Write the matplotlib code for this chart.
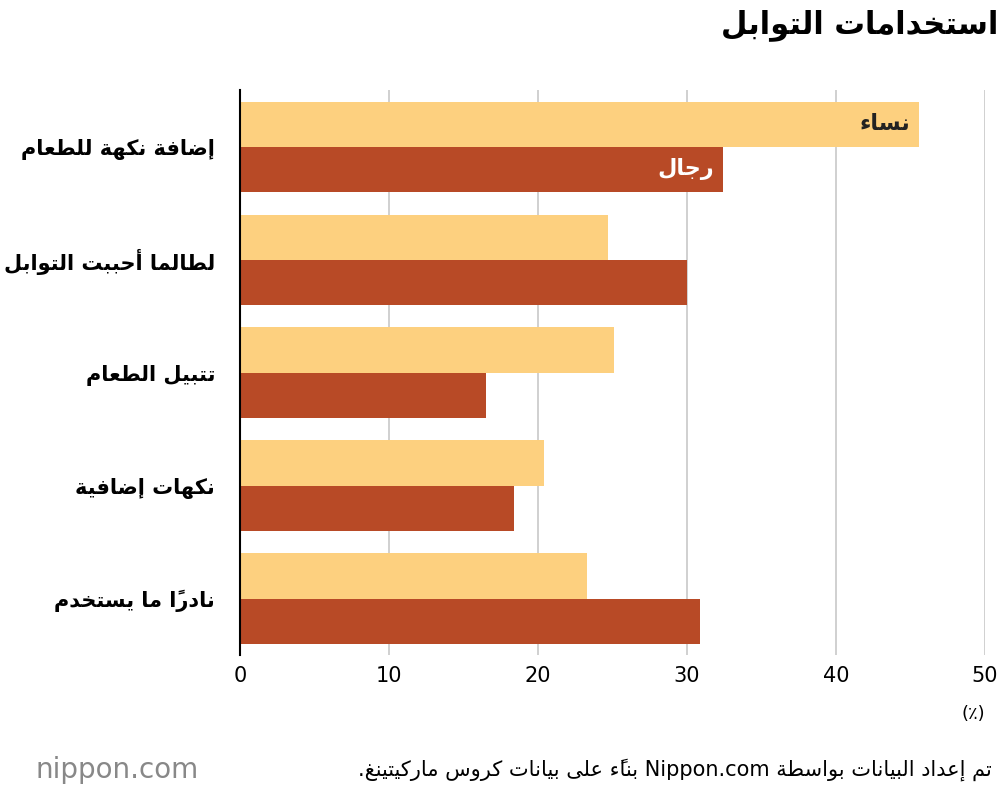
import matplotlib
matplotlib.use("Agg")
import matplotlib.pyplot as plt

title = "استخدامات التوابل"
categories = ["إضافة نكهة للطعام", "لطالما أحببت التوابل", "تتبيل الطعام", "نكهات إضافية", "نادراً ما يستخدم"]
women = [45.6, 24.7, 25.1, 20.4, 23.3]
men = [32.4, 30.0, 16.5, 18.4, 30.9]
series_names = ["نساء", "رجال"]
xticks = [0, 10, 20, 30, 40, 50]
unit = "(٪)"
source = "تم إعداد البيانات بواسطة Nippon.com بناءً على بيانات كروس ماركيتينغ."

# --- minimal Arabic shaping (presentation forms) ---
F = {
 'ء':(0xFE80,None,None,None),'آ':(0xFE81,0xFE82,None,None),'أ':(0xFE83,0xFE84,None,None),
 'ؤ':(0xFE85,0xFE86,None,None),'إ':(0xFE87,0xFE88,None,None),'ئ':(0xFE89,0xFE8A,0xFE8B,0xFE8C),
 'ا':(0xFE8D,0xFE8E,None,None),'ب':(0xFE8F,0xFE90,0xFE91,0xFE92),'ة':(0xFE93,0xFE94,None,None),
 'ت':(0xFE95,0xFE96,0xFE97,0xFE98),'ث':(0xFE99,0xFE9A,0xFE9B,0xFE9C),'ج':(0xFE9D,0xFE9E,0xFE9F,0xFEA0),
 'ح':(0xFEA1,0xFEA2,0xFEA3,0xFEA4),'خ':(0xFEA5,0xFEA6,0xFEA7,0xFEA8),'د':(0xFEA9,0xFEAA,None,None),
 'ذ':(0xFEAB,0xFEAC,None,None),'ر':(0xFEAD,0xFEAE,None,None),'ز':(0xFEAF,0xFEB0,None,None),
 'س':(0xFEB1,0xFEB2,0xFEB3,0xFEB4),'ش':(0xFEB5,0xFEB6,0xFEB7,0xFEB8),'ص':(0xFEB9,0xFEBA,0xFEBB,0xFEBC),
 'ض':(0xFEBD,0xFEBE,0xFEBF,0xFEC0),'ط':(0xFEC1,0xFEC2,0xFEC3,0xFEC4),'ظ':(0xFEC5,0xFEC6,0xFEC7,0xFEC8),
 'ع':(0xFEC9,0xFECA,0xFECB,0xFECC),'غ':(0xFECD,0xFECE,0xFECF,0xFED0),'ف':(0xFED1,0xFED2,0xFED3,0xFED4),
 'ق':(0xFED5,0xFED6,0xFED7,0xFED8),'ك':(0xFED9,0xFEDA,0xFEDB,0xFEDC),'ل':(0xFEDD,0xFEDE,0xFEDF,0xFEE0),
 'م':(0xFEE1,0xFEE2,0xFEE3,0xFEE4),'ن':(0xFEE5,0xFEE6,0xFEE7,0xFEE8),'ه':(0xFEE9,0xFEEA,0xFEEB,0xFEEC),
 'و':(0xFEED,0xFEEE,None,None),'ى':(0xFEEF,0xFEF0,None,None),'ي':(0xFEF1,0xFEF2,0xFEF3,0xFEF4),
}
LA = {'ا':(0xFEFB,0xFEFC),'أ':(0xFEF7,0xFEF8),'إ':(0xFEF9,0xFEFA),'آ':(0xFEF5,0xFEF6)}
MARKS = set(chr(c) for c in range(0x064B, 0x0653))

def joins_next(ch):
    return ch in F and F[ch][2] is not None

def shape_word(w):
    letters = list(w)
    out = []
    i = 0
    prev = None
    n = len(letters)
    def next_base(j):
        j += 1
        while j < n and letters[j] in MARKS:
            j += 1
        return letters[j] if j < n else None, j
    while i < n:
        c = letters[i]
        if c in MARKS:
            out.append(c); i += 1; continue
        if c not in F:
            out.append(c); prev = None; i += 1; continue
        nb, j = next_base(i)
        linked_prev = prev is not None and joins_next(prev)
        if c == 'ل' and nb in LA:
            out.append(chr(LA[nb][1] if linked_prev else LA[nb][0]))
            prev = 'ا'; i = j + 1; continue
        linked_next = joins_next(c) and nb in F
        iso, fin, ini, med = F[c]
        if linked_prev and linked_next: g = med
        elif linked_prev: g = fin if fin else iso
        elif linked_next: g = ini
        else: g = iso
        out.append(chr(g)); prev = c; i += 1
    clusters = []
    for ch in out:
        if ch in MARKS and clusters:
            clusters[-1] += ch
        else:
            clusters.append(ch)
    return "".join(reversed(clusters))

def is_ar(w):
    return any('\u0600' <= ch <= '\u06FF' for ch in w)

def ar(text):
    trail = ""
    while text and text[-1] in ".:،":
        trail = text[-1] + trail; text = text[:-1]
    words = text.split(" ")
    vis = [shape_word(w) if is_ar(w) else w for w in words]
    return trail + " ".join(reversed(vis))

plt.rcParams["font.family"] = "DejaVu Sans"
fig = plt.figure(figsize=(10, 7.92), dpi=100)
ax = fig.add_axes([0.24, 0.173, 0.745, 0.713])
c_w, c_m = "#FDD07F", "#B84A26"
h = 0.4
ys = list(range(len(categories)))
ax.barh([y - h/2 for y in ys], women, height=h, color=c_w, zorder=2)
ax.barh([y + h/2 for y in ys], men, height=h, color=c_m, zorder=2)
ax.set_ylim(len(categories) - 0.5, -0.5)
ax.set_xlim(0, 50)
ax.set_xticks(xticks)
ax.set_xticklabels([str(t) for t in xticks], fontsize=15)
ax.set_yticks(ys)
ax.set_yticklabels([ar(c) for c in categories], fontsize=15, fontweight="bold")
ax.tick_params(axis="y", length=0, pad=18)
ax.tick_params(axis="x", length=0, pad=8)
ax.grid(axis="x", color="#c8c8c8", lw=1.2, zorder=0)
for s in ["top", "right", "bottom"]:
    ax.spines[s].set_visible(False)
ax.spines["left"].set_color("black"); ax.spines["left"].set_linewidth(1.5)
ax.spines["left"].set_zorder(3)

ax.text(women[0] - 0.6, -h/2, ar(series_names[0]), ha="right", va="center", fontsize=16, fontweight="bold", color="#222")
ax.text(men[0] - 0.6, h/2, ar(series_names[1]), ha="right", va="center", fontsize=16, fontweight="bold", color="white")

fig.text(0.998, 0.968, ar(title), ha="right", va="center", fontsize=22, fontweight="bold")
fig.text(0.985, 0.098, unit, ha="right", va="center", fontsize=13)
fig.text(0.992, 0.028, ar(source), ha="right", va="center", fontsize=15)
fig.text(0.035, 0.028, "nippon.com", ha="left", va="center", fontsize=20, color="#888")
fig.savefig("out.png", dpi=100)
